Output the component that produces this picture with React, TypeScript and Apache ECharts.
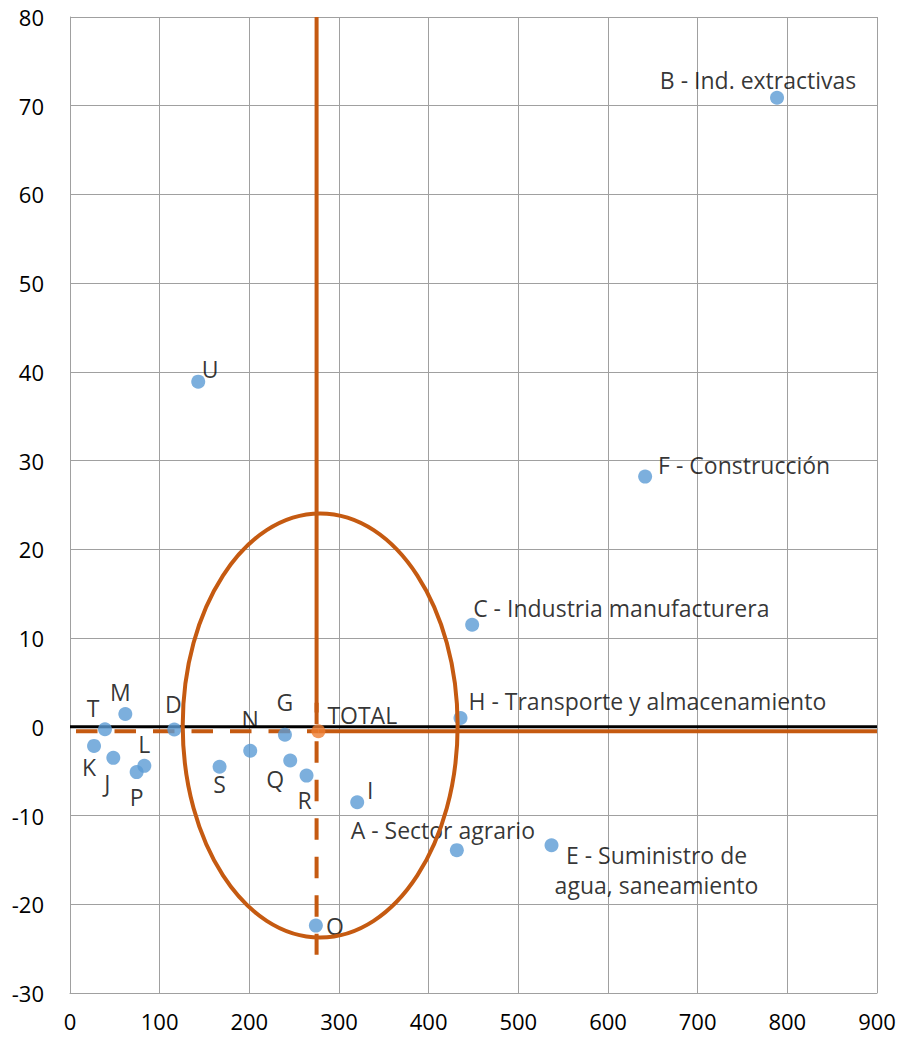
import React, { useEffect, useRef } from "react";
import * as echarts from "echarts";

// ---- Data ----
const sectorNames = [
  "B - Ind. extractivas",
  "U",
  "F - Construcción",
  "C - Industria manufacturera",
  "H - Transporte y almacenamiento",
  "I",
  "A - Sector agrario",
  "E - Suministro de\nagua, saneamiento",
  "O",
  "G",
  "N",
  "Q",
  "R",
  "S",
  "D",
  "M",
  "T",
  "K",
  "J",
  "P",
  "L",
];
const sectorX = [788.5, 143, 641.4, 448.5, 435.5, 320.3, 431.4, 537, 274.2, 239.7, 201, 245.6, 263.8, 166.8, 116.3, 61.7, 39, 26.8, 48.3, 74.3, 82.9];
const sectorY = [70.9, 38.9, 28.2, 11.5, 1.0, -8.5, -13.9, -13.35, -22.4, -0.9, -2.7, -3.8, -5.5, -4.5, -0.3, 1.45, -0.27, -2.15, -3.5, -5.1, -4.4];

const totalName = "TOTAL";
const totalX = 277;
const totalY = -0.5;

// reference lines (average)
const avgLineX = 275;
const avgLineY = -0.5;
const xRange = [0, 900];
const yRange = [-30, 80];
const xTicks = 100;
const yTicks = 10;

// highlighted ellipse: [centerX, centerY, radiusX, radiusY]
const ellipseData = [[279, 0.15, 153.3, 23.9]];

// ---- Label placement (style) ----
const labelPlacement: Record<string, [number, number, string]> = {
  "B - Ind. extractivas": [-19, -18, "center"],
  U: [12, -13, "center"],
  "F - Construcción": [13, -12, "left"],
  "C - Industria manufacturera": [1, -17, "left"],
  "H - Transporte y almacenamiento": [8, -17, "left"],
  I: [13, -12, "center"],
  "A - Sector agrario": [-14, -20, "center"],
  "E - Suministro de\nagua, saneamiento": [105, 25, "center"],
  O: [19, 0, "center"],
  G: [0, -33, "center"],
  N: [0, -32, "center"],
  Q: [-15, 18, "center"],
  R: [-2, 24, "center"],
  S: [0, 17, "center"],
  D: [-1, -25, "center"],
  M: [-5, -22, "center"],
  T: [-12, -21, "center"],
  K: [-5, 21, "center"],
  J: [-6, 25, "center"],
  P: [0, 25, "center"],
  L: [0, -22, "center"],
};

const FONT = "'Open Sans', 'Noto Sans', sans-serif";
const ORANGE = "#C55A11";
const GRID = "#A0A0A0";

export default function App() {
  const ref = useRef<HTMLDivElement>(null);

  useEffect(() => {
    if (!ref.current) return;
    const chart = echarts.init(ref.current, null, { renderer: "svg" });

    const scatterData = sectorNames.map((name, i) => {
      const p = labelPlacement[name] || [0, -20, "center"];
      return {
        name,
        value: [sectorX[i], sectorY[i]],
        label: {
          show: true,
          position: "inside",
          offset: [p[0], p[1]],
          align: p[2],
          verticalAlign: "middle",
          formatter: name,
          lineHeight: 30,
        },
      };
    });

    const option: any = {
      animation: false,
      backgroundColor: "#ffffff",
      textStyle: { fontFamily: FONT },
      grid: { left: 70, top: 17, right: 22, bottom: 46, containLabel: false },
      xAxis: {
        type: "value",
        min: xRange[0],
        max: xRange[1],
        interval: xTicks,
        axisLine: { show: true, onZero: false, lineStyle: { color: GRID, width: 1 } },
        axisTick: { show: false },
        splitLine: { show: true, lineStyle: { color: GRID, width: 1 } },
        axisLabel: { color: "#000", fontSize: 22, lineHeight: 22, fontFamily: FONT, margin: 17 },
      },
      yAxis: {
        type: "value",
        min: yRange[0],
        max: yRange[1],
        interval: yTicks,
        axisLine: { show: true, onZero: false, lineStyle: { color: GRID, width: 1 } },
        axisTick: { show: false },
        splitLine: { show: true, lineStyle: { color: GRID, width: 1 } },
        axisLabel: { color: "#000", fontSize: 22, fontFamily: FONT, margin: 26 },
      },
      series: [
        {
          type: "line",
          z: 1,
          symbol: "none",
          silent: true,
          data: [[xRange[0], 0], [xRange[1], 0]],
          lineStyle: { color: "#000", width: 3 },
        },
        {
          type: "line",
          z: 2,
          symbol: "none",
          silent: true,
          data: [[6.7, avgLineY], [totalX, avgLineY]],
          lineStyle: { color: ORANGE, width: 4, type: [21.5, 17] },
        },
        {
          type: "line",
          z: 2,
          symbol: "none",
          silent: true,
          data: [[totalX, avgLineY], [xRange[1], avgLineY]],
          lineStyle: { color: ORANGE, width: 4 },
        },
        {
          type: "line",
          z: 2,
          symbol: "none",
          silent: true,
          data: [[avgLineX, yRange[1]], [avgLineX, 1.6]],
          lineStyle: { color: ORANGE, width: 4 },
        },
        {
          type: "line",
          z: 2,
          symbol: "none",
          silent: true,
          data: [[avgLineX, 2.7], [avgLineX, -25.7]],
          lineStyle: { color: ORANGE, width: 4, type: [21.5, 17] },
        },
        {
          type: "scatter",
          z: 3,
          symbolSize: 14,
          itemStyle: { color: "#5B9BD5" },
          label: { color: "#000", fontSize: 23, fontFamily: FONT },
          data: scatterData,
        },
        {
          type: "scatter",
          z: 5,
          symbolSize: 14,
          itemStyle: { color: "#ED7D31" },
          label: {
            show: true,
            position: "inside",
            offset: [9, -16],
            align: "left",
            verticalAlign: "middle",
            color: "#000",
            fontSize: 23,
            fontFamily: FONT,
            formatter: totalName,
          },
          data: [{ name: totalName, value: [totalX, totalY] }],
        },
        {
          type: "custom",
          z: 4,
          silent: true,
          clip: false,
          encode: { x: 0, y: 1 },
          data: ellipseData,
          renderItem: (params: any, api: any) => {
            const c = api.coord([api.value(0), api.value(1)]);
            const s = api.size([api.value(2), api.value(3)]);
            return {
              type: "ellipse",
              shape: { cx: c[0], cy: c[1], rx: s[0], ry: s[1] },
              style: { fill: "none", stroke: ORANGE, lineWidth: 4 },
            };
          },
        },
      ],
    };

    chart.setOption(option);
    return () => chart.dispose();
  }, []);

  return (
    <div
      ref={ref}
      style={{ position: "fixed", left: 0, top: 0, width: 899, height: 1039, background: "#fff" }}
    />
  );
}
